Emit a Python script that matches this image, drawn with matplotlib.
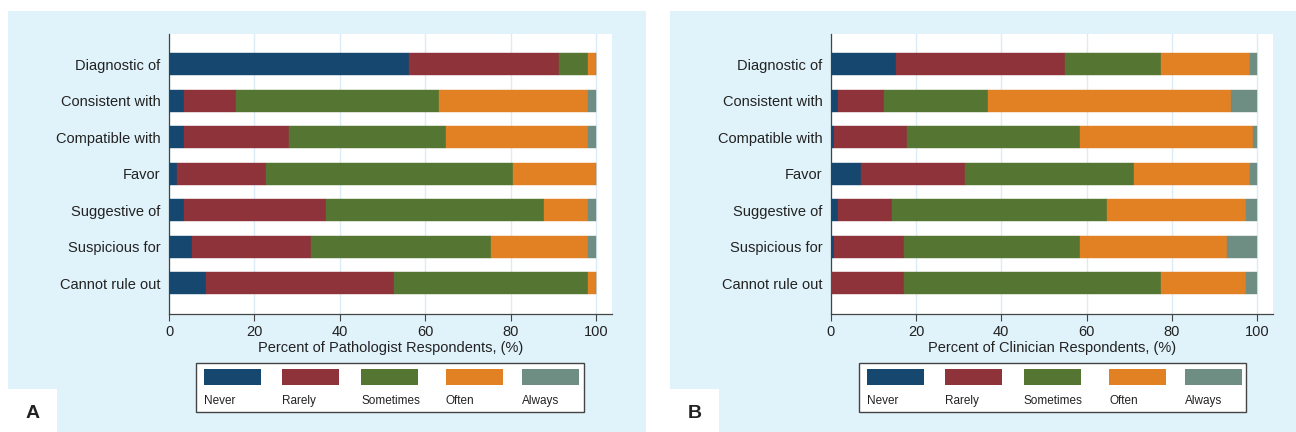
import numpy as np
import matplotlib
matplotlib.use("Agg")
import matplotlib.pyplot as plt
from matplotlib.patches import Rectangle

plt.rcParams['font.family'] = ['Liberation Sans', 'DejaVu Sans']

# ---------------------------------------------------------------- data
phrases = ["Diagnostic of", "Consistent with", "Compatible with", "Favor",
           "Suggestive of", "Suspicious for", "Cannot rule out"]
responses = ["Never", "Rarely", "Sometimes", "Often", "Always"]

# panel A : pathologists (%)
path_never     = [56.2, 3.5, 3.5, 1.8, 3.5, 5.3, 8.7]
path_rarely    = [35.1, 12.2, 24.6, 20.9, 33.3, 28.0, 44.0]
path_sometimes = [6.8, 47.5, 36.8, 57.9, 51.0, 42.1, 45.4]
path_often     = [1.9, 34.9, 33.2, 19.4, 10.3, 22.7, 1.9]
path_always    = [0.0, 1.9, 1.9, 0.0, 1.9, 1.9, 0.0]

# panel B : clinicians (%)
clin_never     = [15.3, 1.6, 0.8, 7.1, 1.6, 0.8, 0.0]
clin_rarely    = [39.6, 10.8, 17.1, 24.4, 12.8, 16.3, 17.1]
clin_sometimes = [22.5, 24.4, 40.5, 39.5, 50.3, 41.3, 60.3]
clin_often     = [20.8, 57.0, 40.7, 27.2, 32.6, 34.4, 19.9]
clin_always    = [1.8, 6.2, 0.9, 1.8, 2.7, 7.2, 2.7]

colors = ["#15476f", "#8f333b", "#557533", "#e28024", "#6e8e84"]
BG = "#e0f2fa"
W, H = 1296, 432


def px_rect(x0, y0, x1, y1):
    # pixel box (top-left origin) -> figure fraction [l, b, w, h]
    return [x0 / W, (H - y1) / H, (x1 - x0) / W, (y1 - y0) / H]


def draw_panel(fig, ax, series, xlabel, box_px, legend_px, letter, letter_px):
    # panel background
    l, b, w, h = px_rect(*box_px)
    fig.add_artist(Rectangle((l, b), w, h, transform=fig.transFigure,
                             facecolor=BG, edgecolor="none", zorder=-10))
    l, b, w, h = px_rect(*letter_px)
    fig.add_artist(Rectangle((l, b), w, h, transform=fig.transFigure,
                             facecolor="white", edgecolor="none", zorder=-9))
    fig.text(l + w / 2, b + h * 0.42, letter, ha="center", va="center",
             fontsize=14, fontweight="bold", color="#222222")

    y = np.arange(len(phrases))
    left = np.zeros(len(phrases))
    for vals, c in zip(series, colors):
        ax.barh(y, vals, left=left, height=0.61, color=c, edgecolor=c,
                linewidth=0.3, zorder=3)
        left += np.array(vals)

    ax.set_facecolor("white")
    ax.set_xlim(0, 103.7)
    ax.set_ylim(6.83, -0.83)
    ax.set_yticks(y)
    ax.set_yticklabels(phrases)
    ax.set_xticks([0, 20, 40, 60, 80, 100])
    ax.xaxis.grid(True, color="#dcecf6", linewidth=1.0, zorder=0)
    ax.set_axisbelow(True)
    for s in ["top", "right"]:
        ax.spines[s].set_visible(False)
    for s in ["left", "bottom"]:
        ax.spines[s].set_color("#444444")
        ax.spines[s].set_linewidth(0.9)
    ax.tick_params(axis="y", length=0, pad=6, labelsize=10.5, labelcolor="#222222")
    ax.tick_params(axis="x", length=5, width=0.8, color="#444444", pad=3,
                   labelsize=10.5, labelcolor="#222222")
    ax.set_xlabel(xlabel, fontsize=10.5, color="#222222", labelpad=2)

    # legend: key on top, label below
    lx0, ly0, lx1, ly1 = legend_px
    l, b, w, h = px_rect(lx0, ly0, lx1, ly1)
    fig.add_artist(Rectangle((l, b), w, h, transform=fig.transFigure,
                             facecolor="white", edgecolor="#444444",
                             linewidth=1.0, zorder=5))
    offsets = [8, 86, 165, 250, 326]
    for name, c, off in zip(responses, colors, offsets):
        kl, kb, kw, kh = px_rect(lx0 + off, ly0 + 6, lx0 + off + 57, ly0 + 22)
        fig.add_artist(Rectangle((kl, kb), kw, kh, transform=fig.transFigure,
                                 facecolor=c, edgecolor="none", zorder=6))
        fig.text(kl, (H - (ly0 + 38)) / H, name, ha="left", va="center",
                 fontsize=8.5, color="#222222", zorder=7)


fig = plt.figure(figsize=(W / 100, H / 100), dpi=100)
fig.patch.set_facecolor("white")

axA = fig.add_axes(px_rect(169, 34, 612, 313.5))
axB = fig.add_axes(px_rect(830.7, 34, 1273, 313.5))

draw_panel(fig, axA,
           [path_never, path_rarely, path_sometimes, path_often, path_always],
           "Percent of Pathologist Respondents, (%)",
           (8, 11, 646, 432), (196, 363, 584, 412), "A", (8, 389, 57, 432))
draw_panel(fig, axB,
           [clin_never, clin_rarely, clin_sometimes, clin_often, clin_always],
           "Percent of Clinician Respondents, (%)",
           (670, 11, 1296, 432), (859, 363, 1246, 412), "B", (670, 389, 719, 432))

fig.savefig("out.png", dpi=100, facecolor=fig.get_facecolor())
